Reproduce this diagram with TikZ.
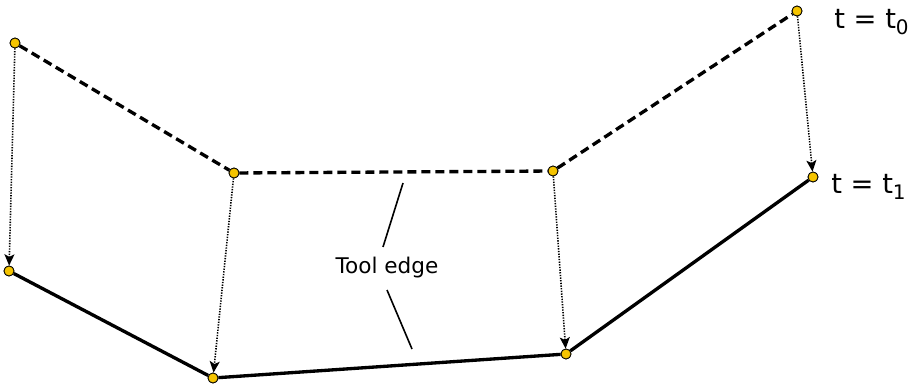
\documentclass[tikz,border=0pt]{standalone}
\usepackage{fontspec}
\setmainfont{DejaVu Sans}
\usetikzlibrary{arrows.meta}
\definecolor{dotgold}{RGB}{245,196,0}
\tikzset{
  pt/.style={circle, draw=black, line width=0.6pt, fill=dotgold, minimum size=7.5pt, inner sep=0pt},
  before/.style={line width=2.5pt, dash pattern=on 6.75pt off 3.75pt},
  after/.style={line width=2.5pt},
  move/.style={line width=1.2pt, dash pattern=on 1pt off 1pt, -{Stealth[length=8.5pt,width=7.5pt,inset=2pt]}},
  leader/.style={line width=1.2pt},
  lbl/.style={font=\fontsize{20.5}{24}\selectfont, anchor=west, inner sep=0pt},
}
\begin{document}
\begin{tikzpicture}[x=0.75pt,y=-0.75pt]
\useasboundingbox (0,0) rectangle (916,388);
% nodes
\node[pt] (a0) at (15,43) {};
\node[pt] (b0) at (234,173) {};
\node[pt] (c0) at (553,171) {};
\node[pt] (d0) at (797,11) {};
\node[pt] (a1) at (9,271) {};
\node[pt] (b1) at (213,378) {};
\node[pt] (c1) at (566,354) {};
\node[pt] (d1) at (813,177) {};
% edges
\draw[before] (a0) -- (b0) -- (c0) -- (d0);
\draw[after] (a1) -- (b1) -- (c1) -- (d1);
\draw[move] (a0) -- (a1);
\draw[move] (b0) -- (b1);
\draw[move] (c0) -- (c1);
\draw[move] (d0) -- (d1);
% redraw dots on top
\foreach \p in {(15,43),(234,173),(553,171),(797,11),(9,271),(213,378),(566,354),(813,177)}
  \node[pt] at \p {};
% labels
\node[lbl] (tz) at (834,22) {t = t\raisebox{-0.35ex}{\fontsize{15}{18}\selectfont 0}};
\node[lbl] (to) at (831,187) {t = t\raisebox{-0.35ex}{\fontsize{15}{18}\selectfont 1}};
\node[font=\fontsize{16.2}{19}\selectfont, inner sep=1pt] (te) at (387,268) {Tool edge};
\coordinate (la) at (403,183);
\coordinate (lb) at (383,247);
\coordinate (lc) at (387,290);
\coordinate (ld) at (412,349);
\draw[leader] (la) -- (lb);
\draw[leader] (lc) -- (ld);
\end{tikzpicture}
\end{document}
